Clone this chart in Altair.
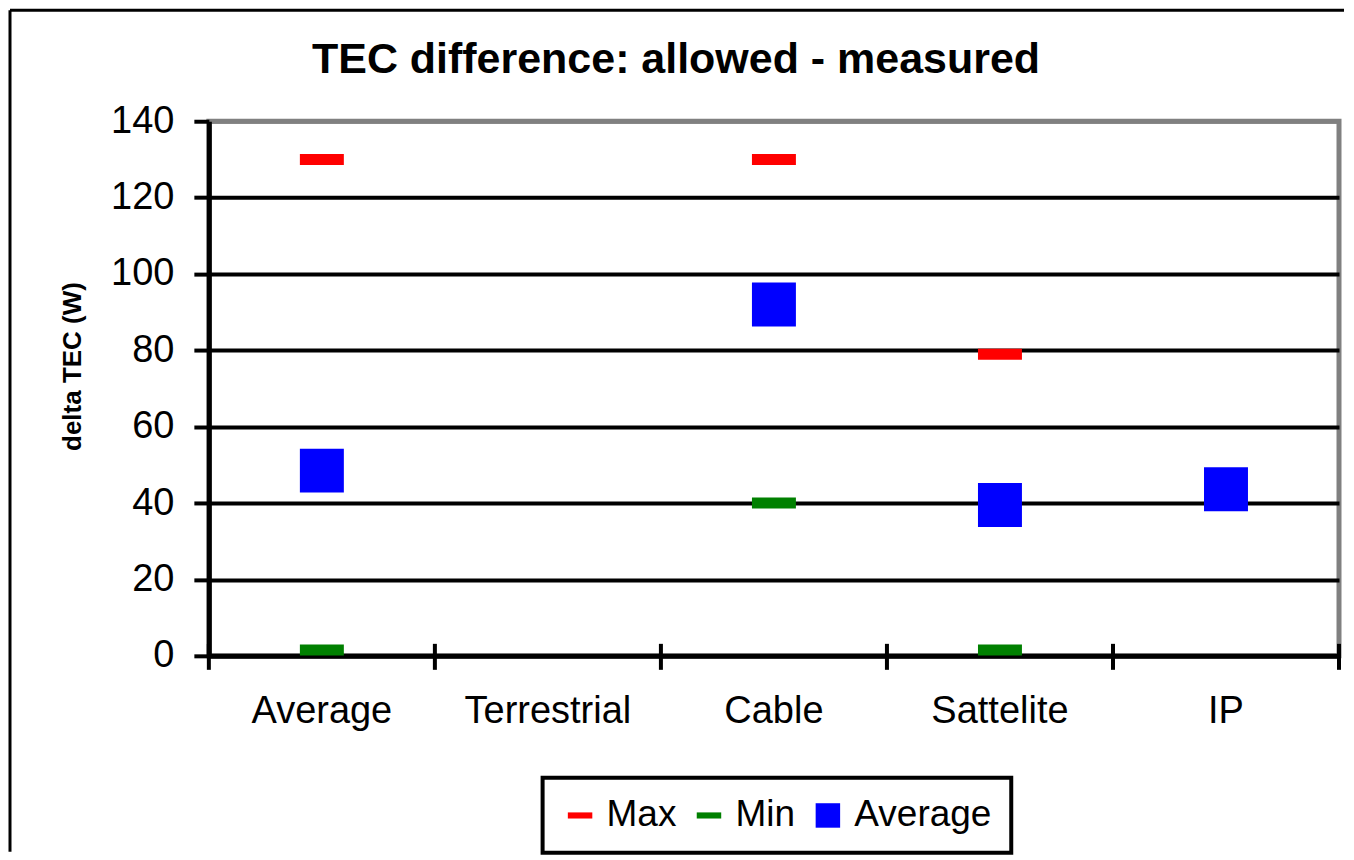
import altair as alt
import pandas as pd

title_text = "TEC difference: allowed - measured"
categories = ["Average", "Terrestrial", "Cable", "Sattelite", "IP"]
series_names = ["Max", "Min", "Average"]
series_colors = ["#FF0000", "#008000", "#0000FF"]

max_cats = ["Average", "Cable", "Sattelite"]
max_vals = [130, 130, 79]
min_cats = ["Average", "Cable", "Sattelite"]
min_vals = [1.5, 40, 1.5]
avg_cats = ["Average", "Cable", "Sattelite", "IP"]
avg_vals = [48.5, 92, 39.5, 43.6]

y_ticks = [0, 20, 40, 60, 80, 100, 120, 140]

W, H = 1131, 535
FONT = "Liberation Sans"

rows = []
for c, v in zip(max_cats, max_vals):
    rows.append({"cat": c, "series": "Max", "value": v})
for c, v in zip(min_cats, min_vals):
    rows.append({"cat": c, "series": "Min", "value": v})
for c, v in zip(avg_cats, avg_vals):
    rows.append({"cat": c, "series": "Average", "value": v})
df = pd.DataFrame(rows)

xscale = alt.Scale(type="band", domain=categories, paddingInner=0, paddingOuter=0)
yscale = alt.Scale(domain=[0, 140], nice=False, zero=True)

dash = "M-1,-0.25L1,-0.25L1,0.25L-1,0.25Z"

legend_kw = dict(orient="none", legendX=334, legendY=657,
                 direction="horizontal", title=None,
                 labelFontSize=37, labelFont=FONT, labelColor="black",
                 symbolSize=600, labelOffset=8, columnPadding=14,
                 padding=19, strokeColor="black", labelLimit=400,
                 symbolStrokeWidth=0)

points = alt.Chart(df).mark_point(filled=True, opacity=1, size=1936).encode(
    x=alt.X("cat:N", scale=xscale, sort=categories,
            axis=alt.Axis(title=None, ticks=False, tickSize=0, labelPadding=37,
                          labelFontSize=38, labelFont=FONT, labelColor="black",
                          labelAngle=0, labelAlign="center", labelBaseline="top",
                          domainColor="black", domainWidth=5,
                          grid=False, labelLimit=400)),
    y=alt.Y("value:Q", scale=yscale,
            axis=alt.Axis(title="delta TEC (W)", values=y_ticks, tickSize=15,
                          tickWidth=4, tickColor="black", labelPadding=20,
                          labelFontSize=38, labelFont=FONT, labelColor="black",
                          domainColor="black", domainWidth=5,
                          grid=True, gridWidth=4,
                          gridColor={"condition": {"test": "datum.value === 140", "value": "#808080"}, "value": "black"},
                          titleFontSize=26, titleFont=FONT, titleFontWeight="bold",
                          titleColor="black", titleX=-136, titleY=245,
                          titleBaseline="middle", titleAngle=270)),
    color=alt.Color("series:N", scale=alt.Scale(domain=series_names, range=series_colors),
                    legend=alt.Legend(**legend_kw)),
    shape=alt.Shape("series:N", scale=alt.Scale(domain=series_names, range=[dash, dash, "square"]),
                    legend=alt.Legend(**legend_kw)),
)

cat_df = pd.DataFrame({"cat": categories})
ticks = alt.Chart(cat_df).mark_rule(color="black", strokeWidth=4).encode(
    x=alt.X("cat:N", scale=xscale, bandPosition=0),
    y=alt.value(H - 12), y2=alt.value(H + 14),
)
end_tick = alt.Chart(pd.DataFrame({"cat": categories[-1:]})).mark_rule(color="black", strokeWidth=4).encode(
    x=alt.X("cat:N", scale=xscale, bandPosition=1),
    y=alt.value(H - 12), y2=alt.value(H + 14),
)

one = pd.DataFrame({"k": [0]})
frame_left = alt.Chart(one).mark_rule(color="black", strokeWidth=3).encode(
    x=alt.value(-199), y=alt.value(-111), y2=alt.value(731))
frame_top = alt.Chart(one).mark_rule(color="black", strokeWidth=3).encode(
    x=alt.value(-199), x2=alt.value(1136), y=alt.value(-111))

title = alt.Chart(pd.DataFrame({"t": [title_text]})).mark_text(
    font=FONT, fontSize=43, fontWeight="bold", color="black",
    align="center", baseline="alphabetic",
).encode(text="t:N", x=alt.value(W / 2 - 98), y=alt.value(-48))

chart = alt.layer(frame_left, frame_top, ticks, end_tick, points, title).properties(
    width=W, height=H, padding=0,
).configure_view(stroke="#808080", strokeWidth=5).configure_legend(strokeWidth=4)

chart.save("out.html", embed_options={"renderer": "svg", "actions": False})
